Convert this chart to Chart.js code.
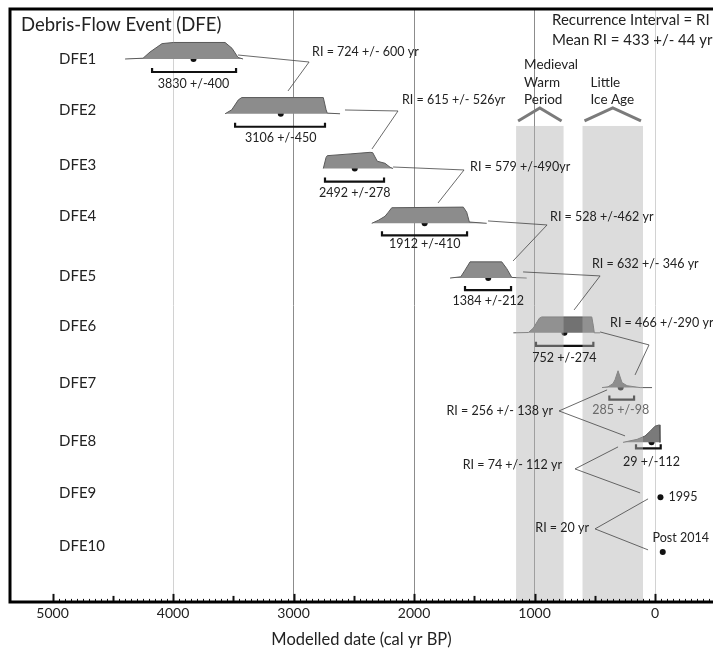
<!DOCTYPE html>
<html>
<head>
<meta charset="utf-8">
<script src="https://cdn.jsdelivr.net/npm/chart.js@4.4.1/dist/chart.umd.min.js"></script>
<style>
  html, body { margin: 0; padding: 0; background: #fff; }
  #wrap { width: 713px; height: 651px; }
</style>
</head>
<body>
<div id="wrap"><canvas id="chart" width="713" height="651"></canvas></div>
<script>
// debris-flow events, oldest at the top
const events = ['DFE1', 'DFE2', 'DFE3', 'DFE4', 'DFE5', 'DFE6', 'DFE7', 'DFE8', 'DFE9', 'DFE10'];
const meanAge = [3830, 3106, 2492, 1912, 1384, 752, 285, 29, -45, -64];   // cal yr BP
const ageText = ['3830 +/-400', '3106 +/-450', '2492 +/-278', '1912 +/-410', '1384 +/-212',
                 '752 +/-274', '285 +/-98', '29 +/-112'];
const errFrom = [4174, 3485, 2739, 2266, 1577, 988, 379, 158];
const errTo   = [3477, 2739, 2249, 1560, 1195, 512, 174, -47];
const eventNotes = ['1995', 'Post 2014'];   // DFE9, DFE10

// modelled probability distributions: [cal yr BP, relative density]
const pdfDFE1 = [[4398, 0], [4249, 0.05], [4191, 0.44], [4091, 0.97], [3996, 1.04], [3568, 1.04], [3510, 0.67], [3461, 0.1], [3419, 0]];
const pdfDFE2 = [[3568, 0], [3513, 0.25], [3458, 0.875], [3430, 1.02], [2753, 1.02], [2730, 0.25], [2720, 0.04], [2614, 0]];
const pdfDFE3 = [[2753, 0], [2730, 0.7], [2720, 0.81], [2531, 0.92], [2365, 1.02], [2343, 1.0], [2305, 0.46], [2241, 0.33], [2199, 0.08], [2174, 0]];
const pdfDFE4 = [[2351, 0], [2296, 0.19], [2241, 0.44], [2213, 0.7], [2185, 0.98], [1591, 1.02], [1563, 0.7], [1541, 0.08], [1397, 0]];
const pdfDFE5 = [[1701, 0], [1612, 0.08], [1577, 0.5], [1535, 1.02], [1272, 1.02], [1231, 0.6], [1189, 0.04], [1065, 0]];
const pdfDFE6 = [[1176, 0], [1051, 0.02], [1010, 0.3], [960, 0.92], [940, 1.0], [525, 1.0], [512, 0.44], [504, 0], [456, 0]];
const pdfDFE7 = [[440, 0], [390, 0.05], [349, 0.25], [332, 0.5], [307, 1.06], [274, 0.31], [232, 0.12], [124, 0], [25, 0]];
const pdfDFE8 = [[266, 0], [149, 0.19], [83, 0.4], [41, 0.7], [0, 1.02], [-36, 1.1], [-41, 0]];
const pdfs = [pdfDFE1, pdfDFE2, pdfDFE3, pdfDFE4, pdfDFE5, pdfDFE6, pdfDFE7, pdfDFE8];

// recurrence intervals between successive events
const riText = ['RI = 724 +/- 600 yr', 'RI = 615 +/- 526yr', 'RI = 579 +/-490yr', 'RI = 528 +/-462 yr',
                'RI = 632 +/- 346 yr', 'RI = 466 +/-290 yr', 'RI = 256 +/- 138 yr', 'RI = 74 +/- 112 yr', 'RI = 20 yr'];
const meanRI = 433, meanRIErr = 44;

// climate periods
const periods = [['Medieval', 'Warm', 'Period'], ['Little', 'Ice Age']];
const periodFrom = [1153, 602];
const periodTo = [759, 100];

// x-axis
const xTicks = [5000, 4000, 3000, 2000, 1000, 0];

// ---- layout (not data) ----
const PDF_H = 0.29;                       // plateau height in row units
const pdfFill = ['#8c8c8c', '#8c8c8c', '#8c8c8c', '#8c8c8c', '#8c8c8c', '#727272', '#6a6a6a', '#7a7a7a'];
const barDrop = [13, 13, 13, 12, 12, 13, 12, 6];
const textDrop = [25, 24, 24, 21, 23, 25, 22, 20];
const labelLift = [0, 4, 3, 7, 2, 7, 4, 1, 4, 6];
// connector legs [start, vertex, end] and label anchor, in (yr, row)
const riLinks = [
  [[3461, 0.927], [2871, 1.055], [3046, 1.584]],
  [[2573, 1.931], [2133, 1.949], [2349, 2.643]],
  [[2174, 2.972], [1585, 3.026], [1801, 3.629]],
  [[1386, 3.957], [896, 4.030], [1178, 4.687]],
  [[1095, 4.888], [456, 4.961], [672, 5.582]],
  [[456, 5.984], [50, 6.221], [166, 6.769]],
  [[398, 7.042], [797, 7.426], [249, 7.882]],
  [[307, 8.083], [664, 8.485], [124, 8.923]],
  [[58, 9.032], [498, 9.580], [58, 9.963]]
];
const riAnchor = [[2846, 0.872, 'left'], [2100, 1.748, 'left'], [1535, 2.972, 'left'], [871, 3.884, 'left'],
                  [523, 4.742, 'left'], [373, 5.819, 'left'], [846, 7.426, 'right'], [772, 8.411, 'right'], [548, 9.561, 'right']];
const bandTopRow = 2.223;
const INK = '#222';

const decor = {
  id: 'decor',
  afterDatasetsDraw(chart) {
    const {ctx, chartArea: a, scales: {x, y}} = chart;
    const px = v => x.getPixelForValue(v);
    const py = v => y.getPixelForValue(v);
    ctx.save();

    // error bars
    ctx.strokeStyle = '#111';
    ctx.lineWidth = 2.2;
    errFrom.forEach((lo, i) => {
      const yb = py(i + 1) + barDrop[i];
      ctx.beginPath();
      ctx.moveTo(px(lo), yb - 4);
      ctx.lineTo(px(lo), yb);
      ctx.lineTo(px(errTo[i]), yb);
      ctx.lineTo(px(errTo[i]), yb - 4);
      ctx.stroke();
    });

    // period bands, laid over the plot
    const bandTop = py(bandTopRow);
    ctx.fillStyle = 'rgba(180,180,180,0.47)';
    periodFrom.forEach((s, i) => {
      const x0 = px(s), x1 = px(periodTo[i]);
      ctx.fillRect(x0, bandTop, x1 - x0, a.bottom - bandTop);
    });
    // chevrons and names
    ctx.strokeStyle = '#7b7b7b';
    ctx.lineWidth = 3;
    ctx.font = '13.5px Lato';
    ctx.fillStyle = INK;
    ctx.textAlign = 'left';
    ctx.textBaseline = 'middle';
    periodFrom.forEach((s, i) => {
      const x0 = px(s), x1 = px(periodTo[i]);
      ctx.beginPath();
      ctx.moveTo(x0 + 2, bandTop - 5);
      ctx.lineTo((x0 + x1) / 2, bandTop - 18);
      ctx.lineTo(x1 - 2, bandTop - 5);
      ctx.stroke();
      const lines = periods[i];
      lines.forEach((t, k) => {
        ctx.fillText(t, x0 + 8, bandTop - 26 - (lines.length - 1 - k) * 17.5);
      });
    });

    // age labels under the bars
    ctx.font = '12.5px Lato';
    ctx.textAlign = 'center';
    ageText.forEach((t, i) => {
      ctx.fillStyle = i === 6 ? '#6a6a6a' : INK;
      ctx.fillText(t, px(meanAge[i]), py(i + 1) + textDrop[i]);
    });

    // recurrence interval connectors and labels
    ctx.strokeStyle = '#444';
    ctx.lineWidth = 0.8;
    riLinks.forEach(pts => {
      ctx.beginPath();
      pts.forEach(([yr, r], k) => (k ? ctx.lineTo(px(yr), py(r)) : ctx.moveTo(px(yr), py(r))));
      ctx.stroke();
    });
    ctx.fillStyle = INK;
    ctx.font = '12.5px Lato';
    riText.forEach((t, i) => {
      const [yr, r, al] = riAnchor[i];
      ctx.textAlign = al;
      ctx.fillText(t, px(yr), py(r));
    });

    // notes for the historic events
    ctx.textAlign = 'left';
    ctx.fillText(eventNotes[0], px(meanAge[8]) + 8, py(9));
    ctx.textAlign = 'center';
    ctx.fillText(eventNotes[1], px(meanAge[9]) + 18, py(10) - 14);

    // event names
    ctx.font = '15px Lato';
    ctx.textAlign = 'left';
    events.forEach((e, i) => ctx.fillText(e, a.left + 49, py(i + 1) - labelLift[i]));

    // headings
    ctx.font = '18.5px Lato';
    ctx.fillText('Debris-Flow Event (DFE)', a.left + 11, a.top + 16);
    ctx.font = '15px Lato';
    ctx.fillText('Recurrence Interval = RI', 552, a.top + 11);
    ctx.fillText('Mean RI = ' + meanRI + ' +/- ' + meanRIErr + ' yr', 552, a.top + 31);

    // axis tick marks, pointing into the plot
    ctx.strokeStyle = '#111';
    for (let v = 5000; v >= -450; v -= 50) {
      const xx = Math.round(px(v)) + 0.5;
      const len = v % 1000 === 0 ? 8 : (v % 500 === 0 ? 6 : 3);
      ctx.lineWidth = v % 500 === 0 ? 2 : 1;
      ctx.beginPath();
      ctx.moveTo(xx, a.bottom);
      ctx.lineTo(xx, a.bottom - len);
      ctx.stroke();
    }

    // frame
    ctx.strokeStyle = '#000';
    ctx.lineWidth = 3;
    ctx.beginPath();
    ctx.moveTo(a.right, a.top);
    ctx.lineTo(a.left, a.top);
    ctx.lineTo(a.left, a.bottom);
    ctx.lineTo(a.right, a.bottom);
    ctx.stroke();
    ctx.restore();
  }
};

Chart.defaults.font.family = 'Lato';
Chart.defaults.color = INK;

const datasets = pdfs.map((pts, i) => ({
  data: pts.map(([yr, d]) => ({x: yr, y: i + 1 - d * PDF_H})),
  fill: {value: i + 1},
  backgroundColor: pdfFill[i],
  borderColor: '#5a5a5a',
  borderWidth: 1,
  pointRadius: 0,
  tension: 0
}));
datasets.push({
  data: meanAge.map((m, i) => ({x: m, y: i + 1})),
  showLine: false,
  pointRadius: 3,
  pointBackgroundColor: '#111',
  pointBorderWidth: 0
});

new Chart(document.getElementById('chart'), {
  type: 'line',
  data: {datasets},
  options: {
    responsive: false,
    animation: false,
    devicePixelRatio: 1,
    layout: {autoPadding: false, padding: {left: 10, top: 9, right: 0, bottom: 0}},
    plugins: {legend: {display: false}, tooltip: {enabled: false}},
    scales: {
      x: {
        type: 'linear',
        reverse: true,
        min: -481,
        max: 5353,
        afterBuildTicks: s => { s.ticks = xTicks.map(v => ({value: v})); },
        afterFit: s => { s.paddingLeft = 0; s.paddingRight = 0; },
        ticks: {
          includeBounds: false,
          padding: 3,
          font: {size: 14},
          color: INK,
          maxRotation: 0,
          callback: v => String(v)
        },
        grid: {
          drawTicks: false,
          lineWidth: 1,
          color: c => {
            const v = c.tick && c.tick.value;
            if (v === 5000) return 'rgba(0,0,0,0)';
            return (v === 3000 || v === 2000 || v === 1000) ? '#8c8c8c' : '#d2d2d2';
          }
        },
        border: {display: false},
        title: {display: true, text: 'Modelled date (cal yr BP)', font: {size: 16.5}, color: INK,
                padding: {top: 5, bottom: 1.5}}
      },
      y: {
        type: 'linear',
        reverse: true,
        min: 0.087,
        max: 10.913,
        display: false
      }
    }
  },
  plugins: [decor]
});
</script>
</body>
</html>
